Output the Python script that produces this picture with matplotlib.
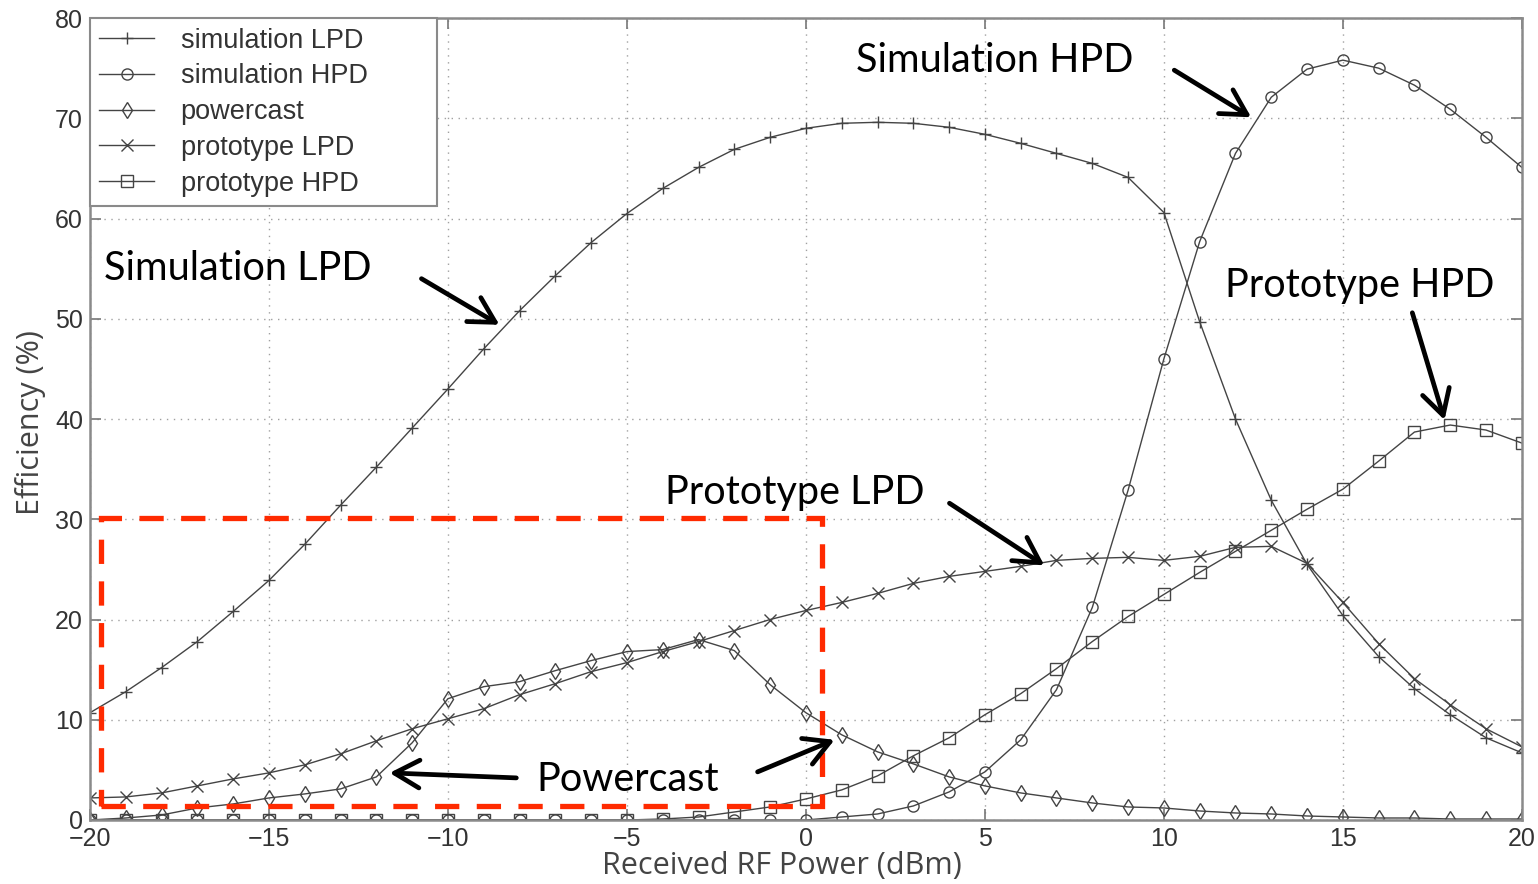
import matplotlib
matplotlib.use("Agg")
from matplotlib import pyplot as plt
from matplotlib.patches import Rectangle
import numpy as np

# received RF power, dBm
power = list(range(-20, 21))

sim_lpd = [10.7, 12.8, 15.2, 17.8, 20.8, 23.9, 27.5, 31.4, 35.2, 39.1,
           43.0, 47.0, 50.8, 54.3, 57.6, 60.5, 63.0, 65.1, 66.9, 68.1,
           69.0, 69.5, 69.6, 69.5, 69.1, 68.4, 67.5, 66.5, 65.5, 64.1,
           60.6, 49.7, 40.0, 31.9, 25.5, 20.4, 16.3, 13.1, 10.5, 8.2, 6.7]
sim_hpd = [0.0, 0.0, 0.0, 0.0, 0.0, 0.0, 0.0, 0.0, 0.0, 0.0,
           0.0, 0.0, 0.0, 0.0, 0.0, 0.0, 0.0, 0.0, 0.0, 0.0,
           0.0, 0.3, 0.6, 1.4, 2.8, 4.8, 8.0, 13.0, 21.2, 32.9,
           46.0, 57.7, 66.5, 72.1, 74.9, 75.8, 75.0, 73.3, 70.9, 68.1, 65.1]
powercast = [0.0, 0.2, 0.5, 1.2, 1.6, 2.2, 2.6, 3.1, 4.3, 7.7,
             12.1, 13.3, 13.8, 14.9, 15.9, 16.8, 17.0, 18.0, 16.9, 13.5,
             10.7, 8.5, 6.8, 5.6, 4.3, 3.4, 2.7, 2.2, 1.7, 1.3,
             1.2, 0.9, 0.7, 0.6, 0.4, 0.3, 0.2, 0.2, 0.1, 0.1, 0.1]
proto_lpd = [2.2, 2.3, 2.7, 3.4, 4.1, 4.7, 5.5, 6.6, 7.9, 9.1,
             10.1, 11.1, 12.5, 13.6, 14.8, 15.7, 16.8, 17.8, 18.9, 20.0,
             20.9, 21.7, 22.6, 23.6, 24.3, 24.8, 25.3, 25.9, 26.1, 26.2,
             25.9, 26.3, 27.2, 27.3, 25.6, 21.7, 17.6, 14.1, 11.5, 9.1, 7.3]
proto_hpd = [0.0, 0.0, 0.0, 0.0, 0.0, 0.0, 0.0, 0.0, 0.0, 0.0,
             0.0, 0.0, 0.0, 0.0, 0.0, 0.0, 0.1, 0.3, 0.8, 1.3,
             2.1, 3.0, 4.4, 6.4, 8.2, 10.5, 12.6, 15.1, 17.8, 20.3,
             22.5, 24.7, 26.8, 28.9, 31.0, 33.0, 35.8, 38.7, 39.4, 38.9, 37.6]

series = [
    ("simulation LPD", sim_lpd, "+"),
    ("simulation HPD", sim_hpd, "o"),
    ("powercast", powercast, "d"),
    ("prototype LPD", proto_lpd, "x"),
    ("prototype HPD", proto_hpd, "s"),
]

line_grey = "#444444"

fig = plt.figure(figsize=(15.38, 8.84), dpi=100)
ax = fig.add_axes([0.0585, 0.0724, 0.931, 0.9072])

for name, vals, mk in series:
    ax.plot(power, vals, color=line_grey, lw=1.0, marker=mk, markersize=8,
            mfc="none", mec=line_grey, mew=1.0, label=name)

ax.set_xlim(-20, 20)
ax.set_ylim(0, 80)
ax.set_xticks(np.arange(-20, 21, 5))
ax.set_yticks(np.arange(0, 81, 10))
ax.set_xticklabels(["\u221220", "\u221215", "\u221210", "\u22125", "0", "5", "10", "15", "20"])
ax.tick_params(direction="in", length=8, width=1.2, color="#777777", top=True, right=True,
               labelsize=18, labelcolor="#333333", pad=5)
for lab in ax.get_xticklabels() + ax.get_yticklabels():
    lab.set_family("Liberation Sans")
for sp in ax.spines.values():
    sp.set_color("#8a8a8a")
    sp.set_linewidth(1.8)
ax.grid(True, linestyle=(0, (1, 4)), color="#a0a0a0", lw=1.0)

ax.set_xlabel("Received RF Power (dBm)", fontsize=22, family="Open Sans", color="#444444")
ax.set_ylabel("Efficiency (%)", fontsize=22, family="Open Sans", color="#444444")
ax.xaxis.set_label_coords(0.483, -0.039)
ax.yaxis.set_label_coords(-0.031, 0.495)

leg = ax.legend(loc="upper left", bbox_to_anchor=(0, 1, 0.2423, 0), mode="expand",
                borderaxespad=0, fancybox=False, framealpha=1,
                edgecolor="#8a8a8a", prop={"family": "Liberation Sans", "size": 19.5},
                handlelength=2.0, handletextpad=1.0, labelspacing=0.36, borderpad=0.35)
leg.get_frame().set_linewidth(1.5)
for t in leg.get_texts():
    t.set_color("#333333")

# red dashed box around the low-power region
box = Rectangle((-19.7, 1.4), 20.15, 28.7, fill=False, edgecolor="#ff2a00",
                lw=3.8, linestyle=(0, (4.6, 3.3)), zorder=5)
ax.add_patch(box)

note_font = dict(family="Lato", fontsize=28.5, color="black", va="center", ha="left")
ax.text(-19.6, 55.0, "Simulation LPD", **note_font)
ax.text(1.41, 75.8, "Simulation HPD", **note_font)
ax.text(11.72, 53.3, "Prototype HPD", **note_font)
ax.text(-3.95, 32.7, "Prototype LPD", **note_font)
ax.text(-7.53, 4.0, "Powercast", **note_font)

arrow = dict(arrowstyle="->,head_length=0.9,head_width=0.5", color="black", lw=3.4,
             shrinkA=0, shrinkB=0, mutation_scale=20)
arrows = [
    ((-10.74, 54.0), (-8.56, 49.4)),
    ((10.29, 74.8), (12.44, 70.1)),
    ((16.94, 50.6), (17.84, 39.9)),
    ((4.01, 31.6), (6.66, 25.4)),
    ((-8.09, 4.2), (-11.63, 4.7)),
    ((-1.35, 4.8), (0.80, 8.0)),
]
for tail, tip in arrows:
    ax.annotate("", xy=tip, xytext=tail, arrowprops=arrow, zorder=6)

fig.savefig("out.png", dpi=100)
